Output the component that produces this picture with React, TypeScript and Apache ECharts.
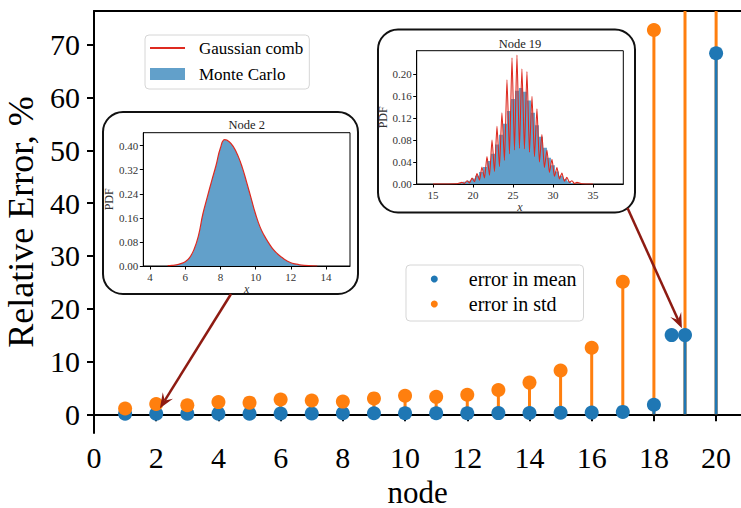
import React, { useEffect, useRef } from 'react';
import * as echarts from 'echarts';

const FONT = "'Liberation Serif', 'Times New Roman', Times, serif";
const BLUE = '#1f77b4';
const ORANGE = '#ff7f0e';
const HIST = '#62a0ca';
const RED = '#de2a20';
const ARROW = '#8e1b12';

// ---- main chart data ----
const nodes = [1, 2, 3, 4, 5, 6, 7, 8, 9, 10, 11, 12, 13, 14, 15, 16, 17, 18, 19, 20];
const meanErr = [0.1, 0.1, 0.1, 0.12, 0.12, 0.15, 0.15, 0.18, 0.18, 0.2, 0.2, 0.2, 0.22, 0.25, 0.28, 0.32, 0.45, 1.8, 15.0, 68.4];
const stdErr = [1.1, 1.95, 1.7, 2.3, 2.2, 2.8, 2.6, 2.4, 3.0, 3.5, 3.3, 3.7, 4.6, 6.0, 8.3, 12.6, 25.1, 72.8, 110, 130];
const extraMeanPoints = [[18.57, 15.0]];
const mainXTicks = [0, 2, 4, 6, 8, 10, 12, 14, 16, 18, 20];
const mainYTicks = [0, 10, 20, 30, 40, 50, 60, 70];
const X_MIN = 0, X_MAX = 20.8, Y_MIN = -3.55, Y_MAX = 76.4;

// ---- inset: node 2 ----
const n2X = [5.0, 5.25, 5.5, 5.75, 6.0, 6.25, 6.5, 6.75, 7.0, 7.25, 7.5, 7.75, 8.0, 8.25, 8.5, 8.75, 9.0, 9.25, 9.5, 9.75, 10.0, 10.25, 10.5, 10.75, 11.0, 11.25, 11.5, 11.75, 12.0, 12.25, 12.5, 13.0, 13.5];
const n2Comb = [0.001, 0.002, 0.004, 0.008, 0.014, 0.028, 0.055, 0.1, 0.172, 0.228, 0.282, 0.334, 0.392, 0.42, 0.413, 0.395, 0.366, 0.326, 0.276, 0.224, 0.172, 0.13, 0.1, 0.076, 0.055, 0.04, 0.028, 0.018, 0.011, 0.007, 0.004, 0.001, 0];
const n2Hist = [0.001, 0.002, 0.004, 0.008, 0.014, 0.028, 0.055, 0.1, 0.171, 0.228, 0.282, 0.333, 0.391, 0.419, 0.412, 0.395, 0.366, 0.326, 0.276, 0.224, 0.172, 0.13, 0.1, 0.076, 0.055, 0.04, 0.028, 0.018, 0.011, 0.007, 0.004, 0.001, 0];
const n2XTicks = [4, 6, 8, 10, 12, 14];
const n2YTicks = [0, 0.08, 0.16, 0.24, 0.32, 0.4];

// ---- inset: node 19 ----
const n19HistX = [18.5, 19.0, 19.5, 20.0, 20.5, 21.0, 21.5, 22.0, 22.5, 23.0, 23.5, 24.0, 24.5, 25.0, 25.5, 26.0, 26.5, 27.0, 27.5, 28.0, 28.5, 29.0, 29.5, 30.0, 30.5, 31.0, 31.5, 32.0, 32.5];
const n19Hist = [0.002, 0.004, 0.006, 0.01, 0.015, 0.022, 0.031, 0.042, 0.055, 0.072, 0.09, 0.11, 0.133, 0.155, 0.17, 0.175, 0.168, 0.152, 0.13, 0.107, 0.086, 0.066, 0.048, 0.034, 0.023, 0.015, 0.009, 0.005, 0.002];
const combPeakX = [18.62, 19.25, 19.88, 20.5, 21.12, 21.75, 22.38, 23.0, 23.62, 24.25, 24.88, 25.5, 26.12, 26.75, 27.38, 28.0, 28.62, 29.25, 29.88, 30.5, 31.12, 31.75, 32.38, 33.0];
const combPeakY = [0.003, 0.006, 0.011, 0.019, 0.031, 0.05, 0.08, 0.105, 0.13, 0.19, 0.23, 0.235, 0.21, 0.205, 0.16, 0.137, 0.09, 0.062, 0.045, 0.03, 0.02, 0.012, 0.006, 0.003];
const combTroughY = [0.001, 0.002, 0.004, 0.007, 0.011, 0.016, 0.023, 0.032, 0.043, 0.055, 0.062, 0.065, 0.064, 0.058, 0.05, 0.04, 0.03, 0.021, 0.014, 0.009, 0.005, 0.003, 0.001];
const n19XTicks = [15, 20, 25, 30, 35];
const n19YTicks = [0, 0.04, 0.08, 0.12, 0.16, 0.2];

// annotation targets (data coords of main axes) and arrow start points (inset frame edges)
const arrowTips = [[2.12, 1.15], [18.9, 16.3]];
const arrowStarts = [[231, 294], [627.5, 208]];

function stemRenderer(color: string) {
  return (params: any, api: any) => {
    const x = api.value(0);
    const y = Math.min(api.value(1), Y_MAX);
    const p0 = api.coord([x, 0]);
    const p1 = api.coord([x, y]);
    return {
      type: 'line',
      shape: { x1: p0[0], y1: p0[1], x2: p1[0], y2: p1[1] },
      style: { stroke: color, lineWidth: 3 },
    };
  };
}

function insetX(gridIndex: number, min: number, max: number, ticks: number[]) {
  return {
    type: 'value', gridIndex, min, max,
    axisLine: { show: true, lineStyle: { color: '#000', width: 1 } },
    axisTick: { show: true, customValues: ticks, length: 3.5, lineStyle: { color: '#000', width: 1 } },
    axisLabel: { customValues: ticks, fontFamily: FONT, fontSize: 11, color: '#333', margin: 5 },
    splitLine: { show: false },
    name: 'x', nameLocation: 'middle', nameGap: 14,
    nameTextStyle: { fontFamily: FONT, fontSize: 12, fontStyle: 'italic', color: '#333' },
  };
}
function insetY(gridIndex: number, min: number, max: number, ticks: number[]) {
  return {
    type: 'value', gridIndex, min, max,
    axisLine: { show: true, lineStyle: { color: '#000', width: 1 } },
    axisTick: { show: true, customValues: ticks, length: 3.5, lineStyle: { color: '#000', width: 1 } },
    axisLabel: { customValues: ticks, fontFamily: FONT, fontSize: 11, color: '#333', margin: 5, formatter: (v: number) => v.toFixed(2) },
    splitLine: { show: false },
    name: 'PDF', nameLocation: 'middle', nameGap: 26,
    nameTextStyle: { fontFamily: FONT, fontSize: 12, color: '#333' },
  };
}

function buildComb19() {
  const pts: number[][] = [[15, 0], [18.0, 0.0005]];
  for (let i = 0; i < combPeakX.length; i++) {
    pts.push([combPeakX[i], combPeakY[i]]);
    if (i < combTroughY.length) pts.push([(combPeakX[i] + combPeakX[i + 1]) / 2, combTroughY[i]]);
  }
  pts.push([33.6, 0.0005], [35, 0]);
  return pts;
}

export default function App() {
  const ref = useRef<HTMLDivElement>(null);
  useEffect(() => {
    const chart = echarts.init(ref.current!, null, { renderer: 'svg' });
    const axisStyle = { color: '#000', width: 2 };
    const option: any = {
      animation: false,
      backgroundColor: '#fff',
      grid: [
        { left: 94, top: 11, right: 0, bottom: 75, outerBoundsMode: 'none', containLabel: false },
        { left: 143.3, top: 132.7, width: 206.7, height: 133.3, show: true, borderColor: '#000', borderWidth: 1, outerBoundsMode: 'none', containLabel: false },
        { left: 416.7, top: 50.7, width: 206.6, height: 133.3, show: true, borderColor: '#000', borderWidth: 1, outerBoundsMode: 'none', containLabel: false },
      ],
      xAxis: [
        {
          type: 'value', gridIndex: 0, min: X_MIN, max: X_MAX, position: 'bottom',
          axisLine: { lineStyle: axisStyle },
          axisTick: { customValues: mainXTicks, length: 7, lineStyle: axisStyle },
          axisLabel: { customValues: mainXTicks, fontFamily: FONT, fontSize: 30, color: '#000', margin: 9 },
          splitLine: { show: false },
          name: 'node', nameLocation: 'middle', nameGap: 35,
          nameTextStyle: { fontFamily: FONT, fontSize: 31, lineHeight: 31, color: '#000' },
        },
        {
          type: 'value', gridIndex: 0, min: X_MIN, max: X_MAX, position: 'top',
          axisLine: { lineStyle: axisStyle }, axisTick: { show: false }, axisLabel: { show: false }, splitLine: { show: false },
        },
        insetX(1, 3.62, 15.36, n2XTicks),
        insetX(2, 12.96, 38.8, n19XTicks),
      ],
      yAxis: [
        {
          type: 'value', gridIndex: 0, min: Y_MIN, max: Y_MAX,
          axisLine: { lineStyle: axisStyle },
          axisTick: { customValues: mainYTicks, length: 7, lineStyle: axisStyle },
          axisLabel: { customValues: mainYTicks, fontFamily: FONT, fontSize: 30, color: '#000', margin: 14 },
          splitLine: { show: false },
          name: 'Relative Error, %', nameLocation: 'middle', nameGap: 51,
          nameTextStyle: { fontFamily: FONT, fontSize: 36, color: '#000' },
        },
        insetY(1, 0, 0.443, n2YTicks),
        insetY(2, 0, 0.243, n19YTicks),
      ],
      legend: [
        {
          orient: 'vertical', left: 145, top: 35,
          data: [{ name: 'Gaussian comb', icon: 'path://M0,0H35V1.8H0Z' }, { name: 'Monte Carlo', icon: 'rect' }],
          itemWidth: 35, itemHeight: 12, itemGap: 6, padding: [3, 6, 5, 5],
          textStyle: { fontFamily: FONT, fontSize: 17, color: '#000', lineHeight: 20, padding: [0, 0, 0, 9] },
          backgroundColor: 'rgba(255,255,255,0.8)', borderColor: '#d6d6d6', borderWidth: 1, borderRadius: 4,
          selectedMode: false,
        },
        {
          orient: 'vertical', left: 406, top: 265,
          data: ['error in mean', 'error in std'], icon: 'circle',
          itemWidth: 7, itemHeight: 7, itemGap: 3, padding: [3, 7, 6, 24.8],
          formatter: (name: string) => '{t|' + name + '}',
          textStyle: {
            fontFamily: FONT, fontSize: 20, color: '#000', lineHeight: 22,
            rich: { t: { fontFamily: FONT, fontSize: 20, color: '#000', lineHeight: 22, padding: [0, 0, 0, 26] } },
          },
          backgroundColor: 'rgba(255,255,255,0.8)', borderColor: '#d6d6d6', borderWidth: 1, borderRadius: 4,
          selectedMode: false,
        },
      ],
      series: [
        {
          type: 'custom', name: 'stdStem', xAxisIndex: 0, yAxisIndex: 0, clip: true, silent: true, z: 2,
          data: nodes.map((n, i) => [n, stdErr[i]]), renderItem: stemRenderer(ORANGE),
        },
        {
          type: 'custom', name: 'meanStem', xAxisIndex: 0, yAxisIndex: 0, clip: true, silent: true, z: 3,
          data: nodes.map((n, i) => [n, meanErr[i]]), renderItem: stemRenderer(BLUE),
        },
        {
          type: 'scatter', name: 'error in mean', xAxisIndex: 0, yAxisIndex: 0, z: 4, clip: true,
          symbolSize: 14, itemStyle: { color: BLUE, opacity: 1 },
          data: nodes.map((n, i) => [n, meanErr[i]]).concat(extraMeanPoints),
        },
        {
          type: 'scatter', name: 'error in std', xAxisIndex: 0, yAxisIndex: 0, z: 5, clip: true,
          symbolSize: 14, itemStyle: { color: ORANGE, opacity: 1 },
          data: nodes.map((n, i) => [n, stdErr[i]]),
        },
        // inset node 2
        {
          type: 'line', name: 'Monte Carlo', xAxisIndex: 2, yAxisIndex: 1, z: 6, smooth: 0.5, symbol: 'none',
          data: n2X.map((x, i) => [x, n2Hist[i]]),
          lineStyle: { width: 0, color: HIST }, itemStyle: { color: HIST }, areaStyle: { color: HIST, opacity: 1 },
        },
        {
          type: 'line', name: 'Gaussian comb', xAxisIndex: 2, yAxisIndex: 1, z: 7, smooth: 0.5, symbol: 'none',
          data: n2X.map((x, i) => [x, n2Comb[i]]),
          lineStyle: { width: 1.2, color: RED }, itemStyle: { color: RED },
        },
        // inset node 19
        {
          type: 'line', name: 'Monte Carlo', xAxisIndex: 3, yAxisIndex: 2, z: 6, step: 'middle', symbol: 'none',
          data: n19HistX.map((x, i) => [x, n19Hist[i]]),
          lineStyle: { width: 0, color: HIST }, itemStyle: { color: HIST }, areaStyle: { color: HIST, opacity: 1 },
        },
        {
          type: 'line', name: 'Gaussian comb', xAxisIndex: 3, yAxisIndex: 2, z: 7, smooth: 0.2, symbol: 'none',
          data: buildComb19(),
          lineStyle: { width: 1.1, color: RED }, itemStyle: { color: RED },
        },
      ],
    };
    chart.setOption(option);

    const graphics: any[] = [
      { type: 'rect', id: 'frame1', z: -10, shape: { x: 103, y: 112, width: 255, height: 182, r: 20 }, style: { fill: '#fff', stroke: '#111', lineWidth: 2 } },
      { type: 'rect', id: 'frame2', z: -10, shape: { x: 378, y: 29.5, width: 257, height: 183, r: 20 }, style: { fill: '#fff', stroke: '#111', lineWidth: 2 } },
      { type: 'text', id: 't1', z: 20, x: 246.7, y: 125, style: { text: 'Node 2', fontFamily: FONT, fontSize: 12.5, fill: '#222', textAlign: 'center', textVerticalAlign: 'middle' } },
      { type: 'text', id: 't2', z: 20, x: 520, y: 43.5, style: { text: 'Node 19', fontFamily: FONT, fontSize: 12.5, fill: '#222', textAlign: 'center', textVerticalAlign: 'middle' } },
    ];
    arrowTips.forEach((tipData, k) => {
      const tip = chart.convertToPixel({ xAxisIndex: 0, yAxisIndex: 0 }, tipData) as number[];
      const st = arrowStarts[k];
      const dx = tip[0] - st[0], dy = tip[1] - st[1];
      const len = Math.sqrt(dx * dx + dy * dy);
      const ux = dx / len, uy = dy / len;
      const px = -uy, py = ux;
      const L = 15, W = 6;
      graphics.push({
        type: 'line', id: 'al' + k, z: 50,
        shape: { x1: st[0], y1: st[1], x2: tip[0] - ux * L * 0.6, y2: tip[1] - uy * L * 0.6 },
        style: { stroke: ARROW, lineWidth: 2.5 },
      });
      graphics.push({
        type: 'polygon', id: 'ah' + k, z: 51,
        shape: {
          points: [
            [tip[0], tip[1]],
            [tip[0] - ux * L + px * W, tip[1] - uy * L + py * W],
            [tip[0] - ux * L * 0.6, tip[1] - uy * L * 0.6],
            [tip[0] - ux * L - px * W, tip[1] - uy * L - py * W],
          ],
        },
        style: { fill: ARROW },
      });
    });
    chart.setOption({ graphic: graphics });
    return () => chart.dispose();
  }, []);
  return <div ref={ref} style={{ position: 'fixed', left: 0, top: 0, width: 741, height: 508 }} />;
}
